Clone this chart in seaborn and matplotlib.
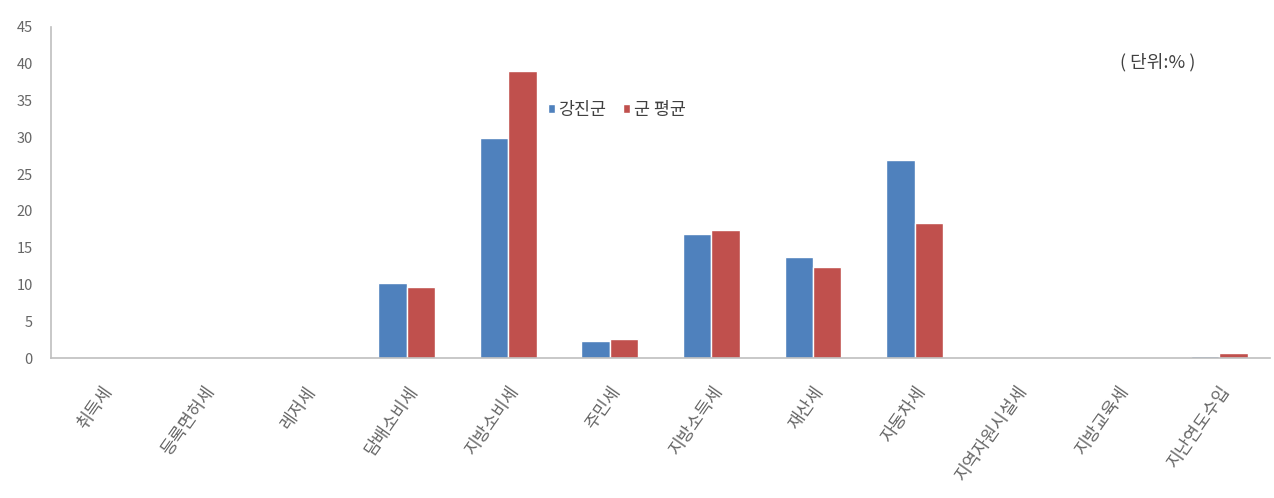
import matplotlib
matplotlib.use('Agg')
import matplotlib.pyplot as plt
import seaborn as sns
import pandas as pd

categories = ['취득세', '등록면허세', '레저세', '담배소비세', '지방소비세', '주민세',
              '지방소득세', '재산세', '자동차세', '지역자원시설세', '지방교육세', '지난연도수입']
gangjin = [0, 0, 0, 10.2, 29.9, 2.3, 16.8, 13.8, 26.9, 0, 0, 0.3]
gun_avg = [0, 0, 0, 9.7, 39.0, 2.55, 17.4, 12.4, 18.3, 0, 0, 0.7]
series_names = ['강진군', '군 평균']

df = pd.DataFrame({
    'cat': categories * 2,
    'val': gangjin + gun_avg,
    'series': [series_names[0]] * len(categories) + [series_names[1]] * len(categories),
})

sns.set_style('white')
plt.rcParams['font.family'] = ['Noto Sans CJK KR', 'DejaVu Sans']

fig = plt.figure(figsize=(12.74, 4.98), dpi=100)
ax = fig.add_axes([0.040, 0.281, 0.957, 0.665])

sns.barplot(data=df, x='cat', y='val', hue='series', order=categories,
            hue_order=series_names, palette=['#4F81BD', '#C0504D'],
            width=0.56, ax=ax, legend=True, saturation=1)

ax.set_ylim(0, 45)
ax.set_yticks(range(0, 46, 5))
ax.set_xlim(-0.5, len(categories) - 0.5)
ax.set_xlabel('')
ax.set_ylabel('')
for s in ['top', 'right']:
    ax.spines[s].set_visible(False)
for s in ['left', 'bottom']:
    ax.spines[s].set_color('#BFBFBF')
    ax.spines[s].set_linewidth(1.2)
ax.tick_params(axis='both', length=0, colors='#666666')
ax.tick_params(axis='y', pad=13, labelsize=10.5)
ax.tick_params(axis='x', pad=18, labelsize=12.5)
plt.setp(ax.get_xticklabels(), rotation=55, ha='right', rotation_mode='anchor')

leg = ax.get_legend()
leg.remove()
handles, labels = ax.get_legend_handles_labels()
fig.legend(handles, labels, loc='center', bbox_to_anchor=(0.484, 0.779), ncol=2,
           frameon=False, fontsize=12.5, handlelength=0.4, handleheight=0.4,
           handletextpad=0.2, columnspacing=1.0, labelcolor='#404040')

fig.text(0.909, 0.876, '( 단위:% )', ha='center', va='center', fontsize=13, color='#404040')

plt.savefig('out.png', dpi=100)
